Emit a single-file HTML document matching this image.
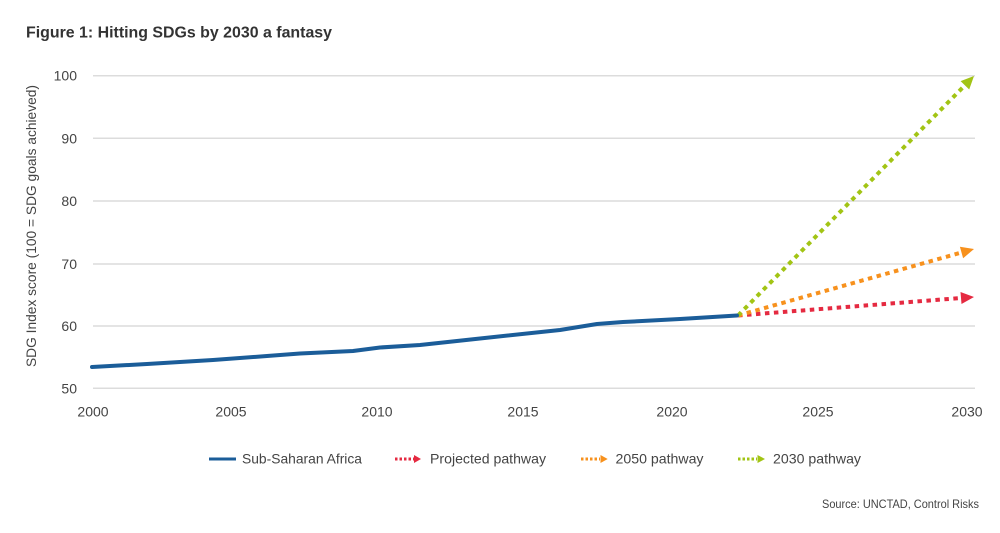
<!DOCTYPE html>
<html>
<head>
<meta charset="utf-8">
<style>
  html, body { margin: 0; padding: 0; background: #ffffff; }
  body { width: 1000px; height: 533px; overflow: hidden; }
  svg { display: block; font-family: "Liberation Sans", Arial, sans-serif; }
</style>
</head>
<body>
<svg width="1000" height="533" viewBox="0 0 1000 533" xmlns="http://www.w3.org/2000/svg">
  <rect x="0" y="0" width="1000" height="533" fill="#ffffff"/>

  <!-- Title -->
  <text x="26" y="37.3" font-size="16" font-weight="bold" fill="#333333" textLength="306" lengthAdjust="spacingAndGlyphs">Figure 1: Hitting SDGs by 2030 a fantasy</text>

  <!-- Gridlines -->
  <g stroke="#dcdcdc" stroke-width="1.5">
    <line x1="93" y1="75.7" x2="975" y2="75.7"/>
    <line x1="93" y1="138.3" x2="975" y2="138.3"/>
    <line x1="93" y1="201" x2="975" y2="201"/>
    <line x1="93" y1="264" x2="975" y2="264"/>
    <line x1="93" y1="326" x2="975" y2="326"/>
    <line x1="93" y1="388.3" x2="975" y2="388.3"/>
  </g>

  <!-- Y tick labels -->
  <g font-size="14" fill="#444444" text-anchor="end">
    <text x="77" y="80.7">100</text>
    <text x="77" y="143.3">90</text>
    <text x="77" y="206">80</text>
    <text x="77" y="269">70</text>
    <text x="77" y="331">60</text>
    <text x="77" y="393.3">50</text>
  </g>

  <!-- Y axis title -->
  <text transform="translate(36,226) rotate(-90)" font-size="14" fill="#444444" text-anchor="middle" textLength="282" lengthAdjust="spacingAndGlyphs">SDG Index score (100 = SDG goals achieved)</text>

  <!-- X tick labels -->
  <g font-size="14" fill="#444444" text-anchor="middle">
    <text x="93" y="416.5">2000</text>
    <text x="231" y="416.5">2005</text>
    <text x="377" y="416.5">2010</text>
    <text x="523" y="416.5">2015</text>
    <text x="672" y="416.5">2020</text>
    <text x="818" y="416.5">2025</text>
    <text x="967" y="416.5">2030</text>
  </g>

  <!-- Projection lines -->
  <line x1="738" y1="315.5" x2="961" y2="298" stroke="#e52a41" stroke-width="4" stroke-dasharray="4.5 4.5"/>
  <polygon points="974,297 961.5,304 960.5,292" fill="#e52a41"/>

  <line x1="738" y1="315.5" x2="961.5" y2="252.5" stroke="#f7911d" stroke-width="4" stroke-dasharray="4.5 4.5"/>
  <polygon points="974,249 963.1,258.3 959.9,246.7" fill="#f7911d"/>

  <line x1="738" y1="315.5" x2="964.9" y2="85.3" stroke="#a2c414" stroke-width="4" stroke-dasharray="4.5 4.5"/>
  <polygon points="974,76 969.2,89.5 960.6,81.1" fill="#a2c414"/>

  <!-- Sub-Saharan Africa line -->
  <polyline fill="none" stroke="#1b5d99" stroke-width="4" stroke-linejoin="round" stroke-linecap="round"
    points="92,367 147,364 213,360 267,356 300,353.5 353,351 380,347.5 420,345 480,338.5 560,330 597,324 623,322 680,319 737,315.5"/>

  <!-- Legend -->
  <line x1="209" y1="459" x2="236" y2="459" stroke="#1b5d99" stroke-width="3"/>
  <text x="242" y="463.5" font-size="14" fill="#444444" textLength="120" lengthAdjust="spacingAndGlyphs">Sub-Saharan Africa</text>

  <line x1="395" y1="459" x2="414" y2="459" stroke="#e52a41" stroke-width="3" stroke-dasharray="2.5 2"/>
  <polygon points="414,455 421,459 414,463" fill="#e52a41"/>
  <text x="430" y="463.5" font-size="14" fill="#444444" textLength="116" lengthAdjust="spacingAndGlyphs">Projected pathway</text>

  <line x1="581" y1="459" x2="600" y2="459" stroke="#f7911d" stroke-width="3" stroke-dasharray="2.5 2"/>
  <polygon points="600.5,455 607.7,459 600.5,463" fill="#f7911d"/>
  <text x="615.5" y="463.5" font-size="14" fill="#444444" textLength="88" lengthAdjust="spacingAndGlyphs">2050 pathway</text>

  <line x1="738" y1="459" x2="757" y2="459" stroke="#a2c414" stroke-width="3" stroke-dasharray="2.5 2"/>
  <polygon points="757.5,455 765,459 757.5,463" fill="#a2c414"/>
  <text x="773" y="463.5" font-size="14" fill="#444444" textLength="88" lengthAdjust="spacingAndGlyphs">2030 pathway</text>

  <!-- Source -->
  <text x="822" y="508" font-size="12" fill="#444444" textLength="157" lengthAdjust="spacingAndGlyphs">Source: UNCTAD, Control Risks</text>
</svg>
</body>
</html>
